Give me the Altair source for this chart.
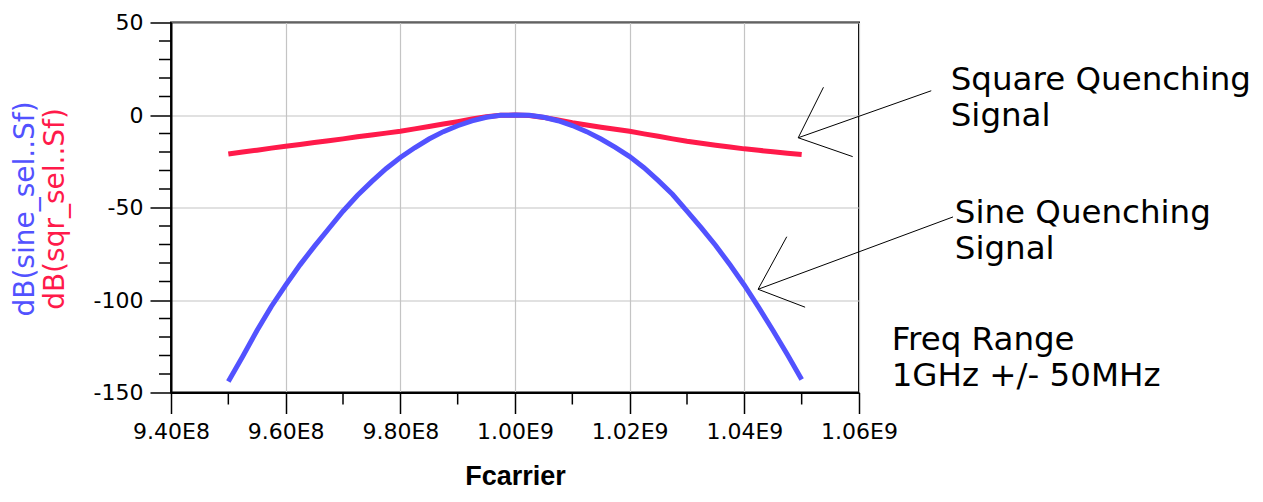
import altair as alt
import pandas as pd

# ---------------- data ----------------
freq_hz = [
    9.500e8, 9.525e8, 9.550e8, 9.575e8, 9.600e8, 9.625e8, 9.650e8, 9.675e8,
    9.700e8, 9.725e8, 9.750e8, 9.775e8, 9.800e8, 9.825e8, 9.850e8, 9.875e8,
    9.900e8, 9.925e8, 9.950e8, 9.975e8, 1.0000e9, 1.0025e9, 1.0050e9, 1.0075e9,
    1.0100e9, 1.0125e9, 1.0150e9, 1.0175e9, 1.0200e9, 1.0225e9, 1.0250e9, 1.0275e9,
    1.0300e9, 1.0325e9, 1.0350e9, 1.0375e9, 1.0400e9, 1.0425e9, 1.0450e9, 1.0475e9,
    1.0500e9,
]
sine_db = [
    -144.0, -130.5, -116.5, -103.5, -92.0, -81.0, -71.0, -61.5,
    -52.0, -43.5, -36.0, -29.0, -23.0, -17.7, -13.0, -9.0,
    -5.8, -3.2, -1.2, -0.2, 0.0, -0.2, -1.2, -3.1,
    -5.7, -9.0, -13.0, -17.5, -22.5, -28.5, -35.5, -43.0,
    -52.0, -61.0, -70.5, -81.0, -92.0, -104.0, -116.5, -129.5,
    -143.0,
]
square_db = [
    -21.1, -20.0, -19.0, -17.9, -16.9, -15.9, -14.9, -13.9,
    -12.9, -11.8, -10.8, -9.8, -8.8, -7.5, -6.2, -4.9,
    -3.6, -2.2, -1.0, -0.2, 0.0, -0.3, -1.3, -2.7,
    -4.2, -5.4, -6.6, -7.7, -8.8, -10.2, -11.5, -12.9,
    -14.2, -15.3, -16.3, -17.3, -18.3, -19.1, -19.9, -20.7,
    -21.4,
]
x_ticks = [9.4e8, 9.6e8, 9.8e8, 1.0e9, 1.02e9, 1.04e9, 1.06e9]
x_minor = [9.5e8, 9.7e8, 9.9e8, 1.01e9, 1.03e9, 1.05e9]
y_ticks = [-150, -100, -50, 0, 50]
y_minor = [-140, -130, -120, -110, -90, -80, -70, -60, -40, -30, -20, -10,
           10, 20, 30, 40]

# annotation arrows (in data units: start freq/dB -> end freq/dB)
arrow_f = [1.0494e9, 1.0494e9, 1.0494e9, 1.0424e9, 1.0424e9, 1.0424e9]
arrow_db = [-12.3, -12.3, -12.3, -94.2, -94.2, -94.2]
arrow_f2 = [1.0726e9, 1.0538e9, 1.0589e9, 1.0764e9, 1.0474e9, 1.0506e9]
arrow_db2 = [13.1, 15.0, -22.5, -55.1, -65.8, -103.9]

note_text = ["Square Quenching\nSignal", "Sine Quenching\nSignal",
             "Freq Range\n1GHz +/- 50MHz"]
note_f = [1.0760e9, 1.0767e9, 1.0657e9]
note_db = [13.4, -58.2, -127.0]

# ---------------- styling ----------------
W, H = 688, 370
BLUE = "#5252ff"
RED = "#ff1a4a"
FONT = "DejaVu Sans"

df_sine = pd.DataFrame({"f": freq_hz, "db": sine_db})
df_sqr = pd.DataFrame({"f": freq_hz, "db": square_db})
df_xmin = pd.DataFrame({"f": x_minor})
df_ymin = pd.DataFrame({"db": y_minor})
df_arrow = pd.DataFrame({"f": arrow_f, "db": arrow_db, "f2": arrow_f2, "db2": arrow_db2})
df_note = pd.DataFrame({"t": note_text, "f": note_f, "db": note_db})

xscale = alt.Scale(domain=[9.4e8, 1.06e9], nice=False, zero=False)
yscale = alt.Scale(domain=[-150, 50], nice=False, zero=False)

x_axis = alt.Axis(
    values=x_ticks,
    labelExpr="datum.value < 1e9 ? format(datum.value/1e8, '.2f') + 'E8' : format(datum.value/1e9, '.2f') + 'E9'",
    title="Fcarrier",
    titleFont="Liberation Sans", titleFontSize=27, titleFontWeight="bold",
    titleColor="black", titleBaseline="alphabetic", titleY=91.5,
    labelFont=FONT, labelFontSize=22, labelColor="black",
    labelBaseline="alphabetic", labelPadding=25,
    labelFlush=False, labelOverlap=False,
    tickSize=21, tickWidth=1.5, tickColor="black",
    domainColor="black", domainWidth=2,
    grid=True, gridColor="#c4c4c4", gridWidth=1.2,
)
y_axis = alt.Axis(
    values=y_ticks, title="",
    labelExpr="'' + datum.value",
    labelFont=FONT, labelFontSize=22, labelColor="black",
    labelBaseline="middle", labelPadding=7, labelOverlap=False,
    tickSize=21, tickWidth=1.5, tickColor="black",
    domainColor="black", domainWidth=2,
    grid=True, gridColor="#c4c4c4", gridWidth=1.2,
)


def X(field):
    return alt.X(field, scale=xscale, axis=x_axis, title="Fcarrier")


def Y(field):
    return alt.Y(field, scale=yscale, axis=y_axis, title="")


sqr_line = alt.Chart(df_sqr).mark_line(color=RED, strokeWidth=5).encode(
    x=X("f:Q"), y=Y("db:Q"),
)
sine_line = alt.Chart(df_sine).mark_line(color=BLUE, strokeWidth=5).encode(
    x=X("f:Q"), y=Y("db:Q"),
)

x_minor_ticks = alt.Chart(df_xmin).mark_rule(color="black", strokeWidth=1.5).encode(
    x=X("f:Q"), y=alt.value(H), y2=alt.value(H + 12),
)
y_minor_ticks = alt.Chart(df_ymin).mark_rule(color="black", strokeWidth=1.5).encode(
    y=Y("db:Q"), x=alt.value(-12), x2=alt.value(0),
)

arrows = alt.Chart(df_arrow).mark_rule(color="black", strokeWidth=1).encode(
    x=X("f:Q"), x2="f2:Q", y=Y("db:Q"), y2="db2:Q",
)
notes = alt.Chart(df_note).mark_text(
    align="left", baseline="alphabetic", font=FONT, fontSize=32.5,
    lineBreak="\n", lineHeight=36, color="black",
).encode(x=X("f:Q"), y=Y("db:Q"), text="t:N")

ytitle_sine = alt.Chart(pd.DataFrame({"t": ["dB(sine_sel..Sf)"]})).mark_text(
    angle=270, align="center", baseline="alphabetic", font=FONT, fontSize=28,
    color=BLUE,
).encode(x=alt.value(-137), y=alt.value(186.5), text="t:N")
ytitle_sqr = alt.Chart(pd.DataFrame({"t": ["dB(sqr_sel..Sf)"]})).mark_text(
    angle=270, align="center", baseline="alphabetic", font=FONT, fontSize=28,
    color=RED,
).encode(x=alt.value(-107), y=alt.value(186.5), text="t:N")

chart = alt.layer(
    sqr_line, sine_line, x_minor_ticks, y_minor_ticks, arrows, notes,
    ytitle_sine, ytitle_sqr,
).properties(
    width=W, height=H,
    padding={"left": 163, "top": 14.5, "right": 396, "bottom": 98},
    autosize=alt.AutoSizeParams(type="none"),
).configure_view(stroke="black", strokeWidth=2)

chart.save("out.html", embed_options={"renderer": "svg", "actions": False})
